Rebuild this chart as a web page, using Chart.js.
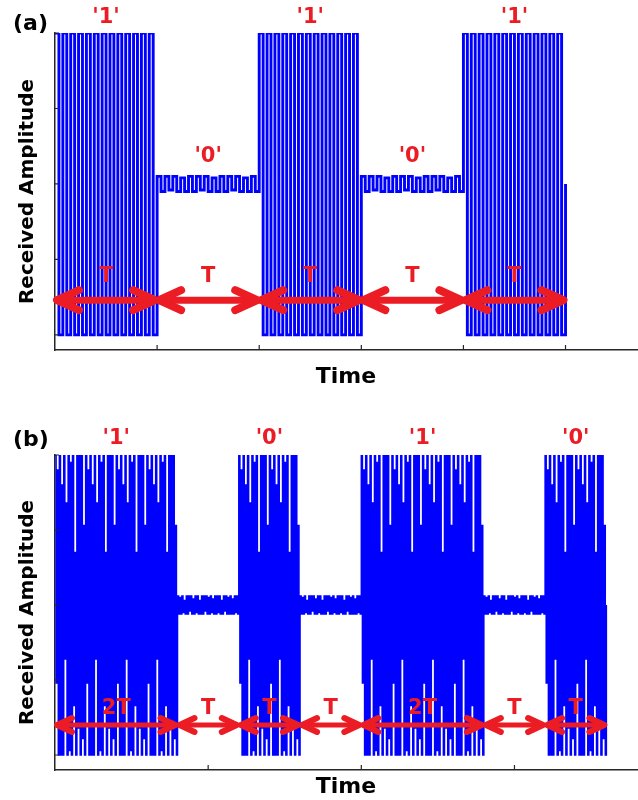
<!DOCTYPE html>
<html>
<head>
<meta charset="utf-8">
<script src="https://cdn.jsdelivr.net/npm/chart.js@4.4.0/dist/chart.umd.min.js"></script>
<style>
  html, body { margin: 0; padding: 0; background: #fff; }
  #wrap { position: relative; width: 638px; height: 800px; }
  canvas { position: absolute; left: 0; }
</style>
</head>
<body>
<div id="wrap">
  <canvas id="chartA" width="638" height="400" style="top:0"></canvas>
  <canvas id="chartB" width="638" height="400" style="top:400px"></canvas>
</div>
<script>
// ── Panel (a): each symbol lasts T, '0' leaves only a small ripple ──
const segStateA  = [1, 0, 1, 0, 1];              // 1 = carrier on, 0 = ripple
const segLenA    = [1, 1, 1, 1, 1];              // in units of T
const bitLabelsA = ["'1'", "'0'", "'1'", "'0'", "'1'"];
const spanLabelsA = ['T', 'T', 'T', 'T', 'T'];
const timeTicksA = [1, 2, 3, 4, 5];

// ── Panel (b): '1' = 2T burst, '0' = T burst, separated by T of ripple ──
const segStateB  = [1, 0, 1, 0, 1, 0, 1];
const segLenB    = [2, 1, 1, 1, 2, 1, 1];
const bitLabelsB = ["'1'", '', "'0'", '', "'1'", '', "'0'"];
const spanLabelsB = ['2T', 'T', 'T', 'T', '2T', 'T', 'T'];
const timeTicksB = [2.5, 5, 7.5];

const ampTicks = [1, 0.5, 0, -0.5, -1];

const burstA = [1, -1, 1, -1, 1, -1, 1, -1, 1, -1, 1, -1, 1,
                -1, 1, -1, 1, -1, 1, -1, 1, -1, 1, -1, 1, -1];
const rippleA = [0.05, -0.05, 0.05, -0.04, 0.05, -0.05, 0.04, -0.05, 0.05,
                 -0.05, 0.05, -0.04, 0.05, -0.05, 0.04, -0.05, 0.05, -0.05,
                 0.05, -0.04, 0.05, -0.05, 0.04, -0.05, 0.05, -0.05];

// carrier samples of a 2T burst in (b); a T burst uses the first half
const burstB = [
  1, -0.52, 0.9, -1,  1, -1, 0.8, -1,  1, -0.36, 0.68, -1,  1, -0.97, 0.95, -1,
  1, -0.67, 0.35, -1, 1, -0.82, 1, -1, 1, -0.89, 0.53, -1,
  1, -0.52, 0.9, -1,  1, -1, 0.8, -1,  1, -0.36, 0.68, -1,  1, -0.97, 0.95, -1,
  1, -0.67, 0.35, -1, 1, -0.82, 1, -1, 1, -0.89, 0.53, -1,
  1, -0.52, 0.9, -1,  1, -1, 0.8, -1,  1, -0.36, 0.68, -1,  1, -0.97, 0.95, -1,
  1, -0.67, 0.35, -1, 1, -0.82, 1, -1, 1, -0.89, 0.53, -1,
  1, -0.52, 0.9, -1,  1, -1, 0.8, -1,  1, -0.36, 0.68, -1,  1, -0.97, 0.95, -1,
  1, -0.67, 0.35, -1, 1, -0.82, 1, -1, 1, -0.89, 0.53, -1
];
const rippleB = [
  0.06, -0.06, 0.05, -0.06, 0.06, -0.05, 0.03, -0.06,
  0.06, -0.06, 0.06, -0.04, 0.06, -0.06, 0.04, -0.06,
  0.06, -0.05, 0.06, -0.06, 0.03, -0.06, 0.06, -0.06,
  0.06, -0.04, 0.06, -0.06, 0.05, -0.06, 0.06, -0.05,
  0.04, -0.06, 0.06, -0.06, 0.06, -0.05, 0.06, -0.06,
  0.03, -0.06, 0.06, -0.04, 0.06, -0.06, 0.05, -0.06,
  0.06, -0.06, 0.04, -0.06, 0.06, -0.05, 0.06, -0.06
];

const FONT = "'DejaVu Sans', Verdana, sans-serif";
const RED = '#ec1c24';
const BLUE = '#0000ff';
const AXIS = '#262626';

// concatenate the segments into one sampled signal (burst array covers burstSpan T)
function buildSignal(segState, segLen, burst, burstSpan, ripple) {
    const pts = [];
    let t0 = 0;
    segState.forEach((on, s) => {
        const src = on ? burst : ripple;
        const step = on ? burstSpan / burst.length : 1 / ripple.length;
        const n = Math.round(segLen[s] / step);
        for (let i = 0; i < n; i++) pts.push({ x: t0 + i * step, y: src[i] });
        t0 += segLen[s];
    });
    pts.push({ x: t0, y: 0 });
    return pts;
}

function drawArrow(ctx, x1, x2, y, st) {
    ctx.strokeStyle = RED;
    ctx.lineCap = 'round';
    ctx.lineJoin = 'round';
    ctx.lineWidth = st.shaft;
    ctx.beginPath();
    ctx.moveTo(x1 + 3, y);
    ctx.lineTo(x2 - 3, y);
    ctx.stroke();
    ctx.lineWidth = st.headW;
    ctx.beginPath();
    ctx.moveTo(x1 + st.head, y - st.half);
    ctx.lineTo(x1 + 2, y);
    ctx.lineTo(x1 + st.head, y + st.half);
    ctx.moveTo(x2 - st.head, y - st.half);
    ctx.lineTo(x2 - 2, y);
    ctx.lineTo(x2 - st.head, y + st.half);
    ctx.stroke();
}

// arrows, red labels, inward ticks and the panel letter
function decoPlugin(cfg) {
    return {
        id: 'deco',
        afterDraw(chart) {
            const { ctx, chartArea } = chart;
            const xs = chart.scales.x, ys = chart.scales.y;
            ctx.save();

            ctx.strokeStyle = AXIS;
            ctx.lineWidth = 1.2;
            ctx.beginPath();
            cfg.timeTicks.forEach(v => {
                const px = xs.getPixelForValue(v);
                ctx.moveTo(px, chartArea.bottom);
                ctx.lineTo(px, chartArea.bottom - 5);
            });
            ampTicks.forEach(v => {
                const py = ys.getPixelForValue(v);
                ctx.moveTo(chartArea.left, py);
                ctx.lineTo(chartArea.left + 4, py);
            });
            ctx.stroke();

            let t0 = 0;
            const yArrow = ys.getPixelForValue(cfg.arrowLevel);
            const ySpan = ys.getPixelForValue(cfg.spanLabelLevel);
            ctx.font = 'bold 21px ' + FONT;
            ctx.textAlign = 'center';
            ctx.textBaseline = 'middle';
            cfg.segLen.forEach((len, s) => {
                const x1 = xs.getPixelForValue(t0);
                const x2 = xs.getPixelForValue(t0 + len);
                const xc = (x1 + x2) / 2;
                drawArrow(ctx, x1, x2, yArrow, cfg.arrowStyle);
                ctx.fillStyle = RED;
                ctx.fillText(cfg.spanLabels[s], xc, ySpan);
                const bit = cfg.bitLabels[s];
                if (bit) {
                    const yb = cfg.segState[s] ? chartArea.top - cfg.bitOffset
                                               : ys.getPixelForValue(cfg.zeroLabelLevel);
                    ctx.fillText(bit, xc, yb);
                }
                t0 += len;
            });

            ctx.fillStyle = '#000';
            ctx.font = 'bold 22px ' + FONT;
            ctx.textAlign = 'left';
            ctx.fillText(cfg.panel, 13, cfg.panelY);
            ctx.restore();
        }
    };
}

function makeChart(canvasId, points, cfg) {
    const canvas = document.getElementById(canvasId);
    return new Chart(canvas.getContext('2d'), {
        type: 'line',
        data: {
            datasets: [{
                data: points,
                borderColor: BLUE,
                borderWidth: cfg.lineWidth,
                stepped: true,
                pointRadius: 0,
                fill: false
            }]
        },
        options: {
            responsive: false,
            animation: false,
            devicePixelRatio: 1,
            layout: { padding: { top: cfg.padTop, right: 1, left: 0, bottom: 0 } },
            plugins: { legend: { display: false }, tooltip: { enabled: false } },
            scales: {
                x: {
                    type: 'linear',
                    min: 0,
                    max: cfg.xMax,
                    ticks: { display: false },
                    grid: { display: false },
                    border: { display: true, color: AXIS, width: 1.5 },
                    title: {
                        display: true, text: 'Time', color: '#000',
                        font: { family: FONT, size: 22, weight: 'bold' },
                        padding: { top: 0, bottom: cfg.timePad }
                    },
                    afterFit: s => { s.height = cfg.xAxisH; }
                },
                y: {
                    min: -1.1,
                    max: 1,
                    ticks: { display: false },
                    grid: { display: false },
                    border: { display: true, color: AXIS, width: 1.5 },
                    title: {
                        display: true, text: 'Received Amplitude', color: '#000',
                        font: { family: FONT, size: 20, weight: 'bold' },
                        padding: { top: 16, bottom: 0 }
                    },
                    afterFit: s => { s.width = 55; }
                }
            }
        },
        plugins: [decoPlugin(cfg)]
    });
}

makeChart('chartA', buildSignal(segStateA, segLenA, burstA, 1, rippleA), {
    lineWidth: 2.9, padTop: 33, xAxisH: 50, xMax: 5.7, timePad: 10,
    segState: segStateA, segLen: segLenA, bitLabels: bitLabelsA, spanLabels: spanLabelsA,
    timeTicks: timeTicksA, arrowLevel: -0.77, spanLabelLevel: -0.615, zeroLabelLevel: 0.18,
    bitOffset: 15, panel: '(a)', panelY: 24,
    arrowStyle: { shaft: 7, headW: 8, head: 24, half: 10 }
});

makeChart('chartB', buildSignal(segStateB, segLenB, burstB, 2, rippleB), {
    lineWidth: 1.5, padTop: 55, xAxisH: 30, xMax: 9.5, timePad: 0,
    segState: segStateB, segLen: segLenB, bitLabels: bitLabelsB, spanLabels: spanLabelsB,
    timeTicks: timeTicksB, arrowLevel: -0.8, spanLabelLevel: -0.687, zeroLabelLevel: 0,
    bitOffset: 16, panel: '(b)', panelY: 40,
    arrowStyle: { shaft: 5, headW: 6, head: 17, half: 7 }
});
</script>
</body>
</html>
